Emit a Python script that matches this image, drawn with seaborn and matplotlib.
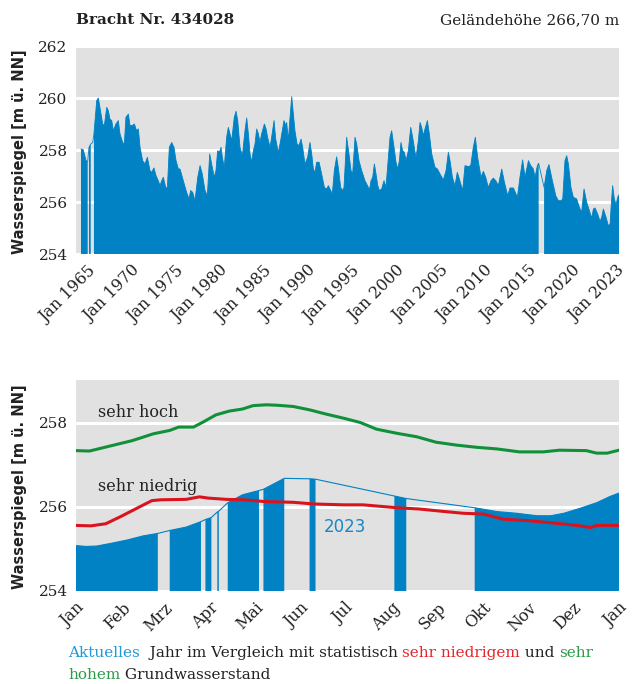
import numpy as np
import matplotlib
matplotlib.use("Agg")
import matplotlib.pyplot as plt
import seaborn as sns

nan = np.nan

# ---------------- data ----------------
station_title = "Bracht Nr. 434028"
elevation_text = "Geländehöhe 266,70 m"
y_label = "Wasserspiegel [m ü. NN]"

hist_year = [
    1965.54, 1965.79, 1966.09, 1966.27, 1966.34, 1966.41, 1966.60, 1966.70, 1966.81, 1966.88,
    1966.95, 1967.25, 1967.43, 1967.60, 1967.90, 1968.08, 1968.34, 1968.51, 1968.69, 1968.88,
    1969.06, 1969.34, 1969.60, 1969.78, 1970.07, 1970.25, 1970.43, 1970.69, 1970.87, 1971.12,
    1971.34, 1971.59, 1971.78, 1971.96, 1972.24, 1972.50, 1972.75, 1973.04, 1973.22, 1973.47,
    1973.70, 1973.94, 1974.13, 1974.31, 1974.49, 1974.75, 1974.93, 1975.14, 1975.40, 1975.65,
    1975.87, 1976.12, 1976.30, 1976.66, 1977.02, 1977.28, 1977.46, 1977.68, 1977.93, 1978.23,
    1978.48, 1978.72, 1979.02, 1979.27, 1979.53, 1979.81, 1980.04, 1980.21, 1980.39, 1980.58,
    1980.76, 1980.90, 1981.11, 1981.37, 1981.55, 1981.73, 1981.92, 1982.20, 1982.39, 1982.57,
    1982.82, 1983.08, 1983.36, 1983.55, 1983.73, 1983.91, 1984.08, 1984.27, 1984.45, 1984.63,
    1984.82, 1984.99, 1985.17, 1985.47, 1985.65, 1985.82, 1986.08, 1986.26, 1986.52, 1986.70,
    1986.98, 1987.17, 1987.42, 1987.60, 1987.79, 1987.89, 1988.07, 1988.26, 1988.44, 1988.62,
    1988.79, 1989.02, 1989.23, 1989.45, 1989.63, 1989.88, 1990.17, 1990.42, 1990.61, 1990.79,
    1990.97, 1991.15, 1991.41, 1991.69, 1991.99, 1992.24, 1992.42, 1992.60, 1992.85, 1993.07,
    1993.32, 1993.50, 1993.76, 1993.97, 1994.12, 1994.41, 1994.66, 1994.88, 1995.06, 1995.32,
    1995.50, 1995.75, 1996.04, 1996.40, 1996.77, 1996.87, 1997.06, 1997.24, 1997.42, 1997.60,
    1997.79, 1997.96, 1998.21, 1998.47, 1998.68, 1998.94, 1999.12, 1999.30, 1999.56, 1999.77,
    1999.95, 2000.14, 2000.31, 2000.49, 2000.68, 2000.86, 2001.11, 2001.37, 2001.58, 2001.84,
    2001.95, 2002.20, 2002.38, 2002.56, 2002.74, 2002.92, 2003.18, 2003.39, 2003.65, 2004.01,
    2004.27, 2004.55, 2004.92, 2005.21, 2005.46, 2005.64, 2005.90, 2006.18, 2006.43, 2006.66,
    2007.01, 2007.27, 2007.63, 2007.89, 2008.17, 2008.39, 2008.64, 2009.01, 2009.26, 2009.52,
    2009.80, 2010.10, 2010.35, 2010.61, 2010.89, 2011.26, 2011.55, 2011.91, 2012.16, 2012.53,
    2012.96, 2013.24, 2013.53, 2013.79, 2014.16, 2014.41, 2014.69, 2014.88, 2015.13, 2015.27,
    2015.56, 2015.86, 2016.15, 2016.39, 2016.76, 2017.13, 2017.41, 2017.71, 2017.89, 2018.13,
    2018.32, 2018.50, 2018.78, 2019.04, 2019.40, 2019.70, 2019.94, 2020.20, 2020.49, 2020.78,
    2021.03, 2021.22, 2021.40, 2021.68, 2021.94, 2022.12, 2022.30, 2022.60, 2022.84, 2023.03,
    2023.14, 2023.31, 2023.49, 2023.68, 2023.86, 2024.00,
]
hist_level = [
    258.04, 258.01, 257.59, 257.56, nan, 258.10, 258.23, nan, 258.29, nan,
    258.62, 259.90, 260.00, 259.64, 259.00, 258.94, 259.64, 259.51, 259.19, 259.13,
    258.74, 259.00, 259.13, 258.62, 258.29, 258.23, 259.26, 259.38, 258.94, 258.94,
    259.00, 258.74, 258.81, 258.10, 257.59, 257.46, 257.72, 257.21, 257.14, 257.31,
    257.01, 256.82, 256.63, 256.82, 256.95, 256.56, 256.54, 258.10, 258.29, 258.10,
    257.59, 257.27, 257.27, 256.82, 256.37, 256.12, 256.44, 256.37, 256.05, 256.95,
    257.40, 257.08, 256.44, 256.24, 257.85, 257.33, 256.95, 257.21, 257.97, 257.91,
    258.10, 257.72, 257.33, 258.49, 258.87, 258.62, 258.36, 259.26, 259.49, 259.13,
    258.10, 257.78, 258.74, 259.23, 258.62, 257.85, 257.53, 257.97, 258.23, 258.81,
    258.62, 258.29, 258.62, 259.00, 258.81, 258.49, 258.10, 258.49, 259.13, 258.42,
    257.91, 258.23, 258.74, 259.13, 258.94, 259.06, 258.36, 259.26, 260.05, 259.38,
    258.74, 258.23, 258.17, 258.42, 258.10, 257.46, 257.72, 258.29, 257.85, 257.27,
    257.14, 257.53, 257.53, 257.08, 256.56, 256.50, 256.63, 256.50, 256.31, 257.21,
    257.74, 257.33, 256.56, 256.44, 256.56, 258.49, 257.85, 257.21, 257.08, 258.49,
    258.23, 257.59, 257.21, 256.82, 256.56, 256.44, 256.82, 256.95, 257.46, 257.08,
    256.63, 256.44, 256.50, 256.82, 256.56, 257.72, 258.49, 258.74, 258.10, 257.53,
    257.27, 257.59, 258.29, 257.97, 257.91, 257.59, 257.97, 258.87, 258.49, 257.91,
    257.72, 258.36, 259.06, 258.87, 258.55, 258.81, 259.13, 258.62, 257.85, 257.33,
    257.27, 257.08, 256.85, 257.21, 257.91, 257.59, 256.95, 256.63, 257.14, 256.88,
    256.44, 257.40, 257.36, 257.40, 258.10, 258.49, 257.72, 256.95, 257.18, 256.95,
    256.56, 256.82, 256.92, 256.82, 256.63, 257.27, 256.76, 256.24, 256.54, 256.54,
    256.18, 256.95, 257.62, 256.95, 257.59, 257.40, 257.27, 256.95, 257.40, 257.49,
    nan, 256.56, 257.21, 257.44, 256.82, 256.24, 256.05, 256.05, 256.12, 257.59,
    257.78, 257.46, 256.56, 256.18, 256.12, 255.79, 255.60, 256.50, 255.99, 255.67,
    255.38, 255.73, 255.77, 255.54, 255.26, 255.41, 255.73, 255.41, 255.09, 255.15,
    255.79, 256.63, 256.12, 255.90, 256.18, 256.28,
]
top_tick_labels = ["Jan 1965", "Jan 1970", "Jan 1975", "Jan 1980", "Jan 1985", "Jan 1990",
                   "Jan 1995", "Jan 2000", "Jan 2005", "Jan 2010", "Jan 2015", "Jan 2020",
                   "Jan 2023"]

day_2023 = [0, 7, 14, 23, 34, 45, 55, 59, 63, 74, 84, 86, 87, 91, 93, 95, 96, 99,
            102, 112, 123, 125, 126, 133, 140, 150, 157, 161, 190, 214, 222, 245,
            268, 283, 296, 310, 319, 328, 339, 350, 359, 365]
level_2023 = [255.08, 255.06, 255.07, 255.13, 255.21, 255.31, 255.37, nan, 255.44, 255.52,
              255.65, nan, 255.70, 255.75, nan, 255.88, 255.90, nan, 256.10, 256.29,
              256.39, nan, 256.42, 256.55, 256.68, nan, 256.67, 256.66, nan, 256.26,
              256.20, nan, 255.98, 255.89, 255.85, 255.79, 255.79, 255.85, 255.97, 256.10,
              256.25, 256.33]

high_day = [0, 9, 23, 38, 52, 63, 69, 79, 86, 94, 103, 112, 119, 128, 135, 146, 157, 168,
            180, 191, 202, 216, 229, 242, 256, 269, 283, 298, 314, 325, 343, 350, 357, 365]
high_level = [257.34, 257.33, 257.45, 257.58, 257.74, 257.82, 257.90, 257.90, 258.03, 258.19,
              258.28, 258.33, 258.41, 258.43, 258.42, 258.39, 258.31, 258.21, 258.11, 258.01,
              257.85, 257.75, 257.67, 257.54, 257.47, 257.42, 257.38, 257.31, 257.31, 257.35,
              257.34, 257.28, 257.28, 257.35]

low_day = [0, 10, 20, 30, 41, 51, 57, 74, 83, 89, 101, 113, 126, 146, 160, 180, 193, 216,
           231, 245, 260, 274, 287, 305, 323, 337, 346, 350, 365]
low_level = [255.56, 255.55, 255.60, 255.77, 255.97, 256.15, 256.17, 256.18, 256.24, 256.21,
             256.18, 256.17, 256.13, 256.11, 256.07, 256.05, 256.05, 255.98, 255.95, 255.90,
             255.85, 255.83, 255.71, 255.67, 255.61, 255.56, 255.51, 255.56, 255.56]

month_start_days = [0, 31, 59, 90, 120, 151, 181, 212, 243, 273, 304, 334, 365]
month_labels = ["Jan", "Feb", "Mrz", "Apr", "Mai", "Jun", "Jul", "Aug", "Sep", "Okt",
                "Nov", "Dez", "Jan"]

label_high = "sehr hoch"
label_low = "sehr niedrig"
label_year = "2023"

caption_line1 = [("Aktuelles", "#1e9ad6"), ("  Jahr im Vergleich mit statistisch ", "#222222"),
                 ("sehr niedrigem", "#e3262d"), (" und ", "#222222"), ("sehr", "#2b9a48")]
caption_line2 = [("hohem", "#2b9a48"), (" Grundwasserstand", "#222222")]

# ---------------- style ----------------
BLUE = "#0082c4"
RED = "#d9141e"
GREEN = "#109139"
BG = "#e1e1e1"

sns.set_theme(style="white")
plt.rcParams['font.family'] = ['DejaVu Serif']
plt.rcParams['text.color'] = '#222222'

W, H = 632, 684
fig = plt.figure(figsize=(W / 100, H / 100), dpi=100)
ax1 = fig.add_axes([76 / W, 1 - 254 / H, 543 / W, 208 / H])
ax2 = fig.add_axes([76 / W, 1 - 591 / H, 543 / W, 211 / H])

for ax in (ax1, ax2):
    ax.set_facecolor(BG)
    for s in ax.spines.values():
        s.set_visible(False)
    ax.grid(axis='y', color='white', lw=2.2)
    ax.grid(axis='x', visible=False)
    ax.set_axisbelow(True)
    ax.tick_params(length=0, pad=6, labelsize=11, colors='#222222')

# top chart
hy = np.array(hist_year)
hl = np.array(hist_level)
ax1.fill_between(hy, 254, hl, color=BLUE, lw=0, zorder=2)
sns.lineplot(x=hy, y=hl, ax=ax1, color=BLUE, lw=0.6, zorder=2)
ax1.set_xlim(1965, 2024)
ax1.set_ylim(254, 262)
ax1.set_yticks([254, 256, 258, 260, 262])
# the source chart spaces its 13 date labels evenly along the axis
ax1.set_xticks(np.linspace(1966.2, 2023.7, len(top_tick_labels)))
ax1.set_xticklabels(top_tick_labels, rotation=45, ha='right', rotation_mode='anchor',
                    fontsize=11.5)
ax1.set_xlabel("")
ax1.set_ylabel("")

# bottom chart
d = np.array(day_2023, dtype=float)
v = np.array(level_2023)
ax2.fill_between(d, 254, v, color=BLUE, lw=0, zorder=2)
ok = ~np.isnan(v)
sns.lineplot(x=d[ok], y=v[ok], ax=ax2, color=BLUE, lw=0.8, zorder=2)
sns.lineplot(x=high_day, y=high_level, ax=ax2, color=GREEN, lw=2.2, zorder=3)
sns.lineplot(x=low_day, y=low_level, ax=ax2, color=RED, lw=2.2, zorder=3)
ax2.set_xlim(0, 365)
ax2.set_ylim(254, 259.02)
ax2.set_yticks([254, 256, 258])
ax2.set_xticks(month_start_days)
ax2.set_xticklabels(month_labels, rotation=45, ha='right', rotation_mode='anchor',
                    fontsize=11.5)
ax2.set_xlabel("")
ax2.set_ylabel("")

ax2.text(15, 258.24, label_high, fontsize=11.5, va='center', ha='left')
ax2.text(15, 256.48, label_low, fontsize=11.5, va='center', ha='left')
ax2.text(181, 255.52, label_year, fontsize=12, va='center', ha='center', color='#1a86c4',
         family=['DejaVu Sans'])

# titles / labels
fig.text(76 / W, 1 - 20 / H, station_title, fontsize=11, fontweight='bold', va='center', ha='left')
fig.text(619 / W, 1 - 20 / H, elevation_text, fontsize=11, va='center', ha='right')
fig.text(20 / W, 1 - 152 / H, y_label, rotation=90, fontsize=10.5, fontweight='bold',
         va='center', ha='center', family=['DejaVu Sans'])
fig.text(20 / W, 1 - 487 / H, y_label, rotation=90, fontsize=10.5, fontweight='bold',
         va='center', ha='center', family=['DejaVu Sans'])

# caption with coloured words
fig.canvas.draw()
rend = fig.canvas.get_renderer()
for line, ypix in ((caption_line1, 653), (caption_line2, 675)):
    x = 68 / W
    for txt, col in line:
        t = fig.text(x, 1 - ypix / H, txt, color=col, fontsize=11, va='center', ha='left')
        bb = t.get_window_extent(renderer=rend)
        x += bb.width / W

fig.savefig("out.png", dpi=100)
